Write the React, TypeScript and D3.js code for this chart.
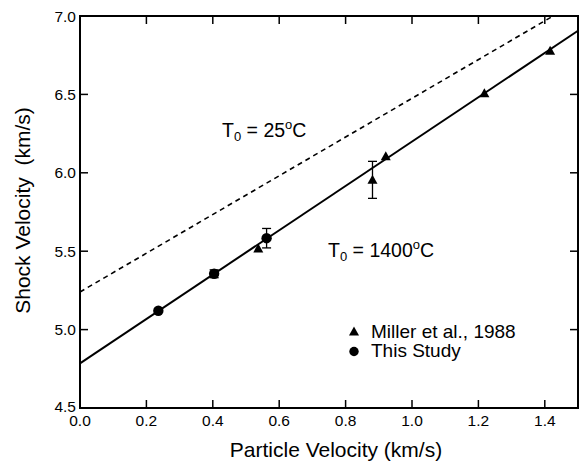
import React from "react";
import * as d3 from "d3";

const xTicks = [0.0, 0.2, 0.4, 0.6, 0.8, 1.0, 1.2, 1.4];
const yTicks = [4.5, 5.0, 5.5, 6.0, 6.5, 7.0];

// Miller et al., 1988 (triangles)
const millerUp = [0.537, 0.881, 0.921, 1.218, 1.416];
const millerUs = [5.518, 5.955, 6.105, 6.507, 6.779];
const millerErr = [0, 0.118, 0, 0, 0];

// This Study (circles)
const studyUp = [0.236, 0.404, 0.562];
const studyUs = [5.12, 5.356, 5.583];
const studyErr = [0, 0.025, 0.062];

// fit lines [intercept, slope]
const fit1400 = [4.785, 1.414];
const fit25 = [5.24, 1.235];

const W = 582, H = 464;
const L = 80, R = 578, T = 16, B = 408;
const FONT = "'Liberation Sans', Arial, Helvetica, sans-serif";

export default function App() {
  const x = d3.scaleLinear().domain([0, 1.5]).range([L, R]);
  const y = d3.scaleLinear().domain([4.5, 7.0]).range([B, T]);
  const line = d3.line<[number, number]>().x(d => x(d[0])).y(d => y(d[1]));

  const solid: [number, number][] = [0, 1.5].map(u => [u, fit1400[0] + fit1400[1] * u]);
  const xEnd25 = (7.0 - fit25[0]) / fit25[1];
  const dashed: [number, number][] = [0, xEnd25].map(u => [u, fit25[0] + fit25[1] * u]);

  const tri = (cx: number, cy: number, s = 5) =>
    `M${cx},${cy - s}L${cx + s},${cy + s * 0.8}L${cx - s},${cy + s * 0.8}Z`;

  const errBar = (u: number, v: number, e: number, key: string) =>
    e > 0 ? (
      <g key={key} stroke="#000" strokeWidth={1.3}>
        <line x1={x(u)} x2={x(u)} y1={y(v - e)} y2={y(v + e)} />
        <line x1={x(u) - 4.5} x2={x(u) + 4.5} y1={y(v - e)} y2={y(v - e)} />
        <line x1={x(u) - 4.5} x2={x(u) + 4.5} y1={y(v + e)} y2={y(v + e)} />
      </g>
    ) : null;

  return (
    <svg width={W} height={H} style={{ position: "absolute", left: 0, top: 0, background: "#fff" }}>
      <rect x={0} y={0} width={W} height={H} fill="#fff" />
      {/* lines */}
      <path d={line(dashed) || ""} fill="none" stroke="#000" strokeWidth={1.6} strokeDasharray="5,4" />
      <path d={line(solid) || ""} fill="none" stroke="#000" strokeWidth={2} />

      {/* error bars */}
      {millerUp.map((u, i) => errBar(u, millerUs[i], millerErr[i], "me" + i))}
      {studyUp.map((u, i) => errBar(u, studyUs[i], studyErr[i], "se" + i))}

      {/* points */}
      {millerUp.map((u, i) => (
        <path key={"m" + i} d={tri(x(u), y(millerUs[i]))} fill="#000" />
      ))}
      {studyUp.map((u, i) => (
        <circle key={"s" + i} cx={x(u)} cy={y(studyUs[i])} r={5.2} fill="#000" />
      ))}

      {/* axes box */}
      <rect x={L} y={T} width={R - L} height={B - T} fill="none" stroke="#000" strokeWidth={2} />
      {xTicks.map((t, i) => (
        <g key={"xt" + i}>
          <line x1={x(t)} x2={x(t)} y1={B} y2={B - 8} stroke="#000" strokeWidth={1.5} />
          <line x1={x(t)} x2={x(t)} y1={T} y2={T + 8} stroke="#000" strokeWidth={1.5} />
          <text x={x(t)} y={425.5} textAnchor="middle" fontFamily={FONT} fontSize={15.5} fill="#000">
            {t.toFixed(1)}
          </text>
        </g>
      ))}
      {yTicks.map((t, i) => (
        <g key={"yt" + i}>
          <line x1={L} x2={L + 8} y1={y(t)} y2={y(t)} stroke="#000" strokeWidth={1.5} />
          <line x1={R} x2={R - 8} y1={y(t)} y2={y(t)} stroke="#000" strokeWidth={1.5} />
          <text x={76} y={y(t) + (i === 0 ? 3.5 : 5.5)} textAnchor="end" fontFamily={FONT} fontSize={15.5} fill="#000">
            {t.toFixed(1)}
          </text>
        </g>
      ))}

      {/* axis titles */}
      <text x={336} y={457} textAnchor="middle" fontFamily={FONT} fontSize={21} fill="#000">
        Particle Velocity (km/s)
      </text>
      <text
        transform={`translate(30,${210.5}) rotate(-90)`}
        textAnchor="middle"
        fontFamily={FONT}
        fontSize={21}
        fill="#000"
      >
        {"Shock Velocity\u00A0 (km/s)"}
      </text>

      {/* annotations */}
      <text x={222} y={136.5} fontFamily={FONT} fontSize={19.5} fill="#000">
        T<tspan fontSize={13} dy={4}>0</tspan>
        <tspan dy={-4}> = 25</tspan>
        <tspan fontSize={13} dy={-8}>o</tspan>
        <tspan dy={8}>C</tspan>
      </text>
      <text x={328} y={256.5} fontFamily={FONT} fontSize={19.5} fill="#000">
        T<tspan fontSize={13} dy={4}>0</tspan>
        <tspan dy={-4}> = 1400</tspan>
        <tspan fontSize={13} dy={-8}>o</tspan>
        <tspan dy={8}>C</tspan>
      </text>

      {/* legend */}
      <path d={tri(354, 331.5, 5)} fill="#000" />
      <text x={371} y={338} fontFamily={FONT} fontSize={19} fill="#000">Miller et al., 1988</text>
      <circle cx={354} cy={351.5} r={4.7} fill="#000" />
      <text x={371} y={357} fontFamily={FONT} fontSize={19} fill="#000">This Study</text>
    </svg>
  );
}
